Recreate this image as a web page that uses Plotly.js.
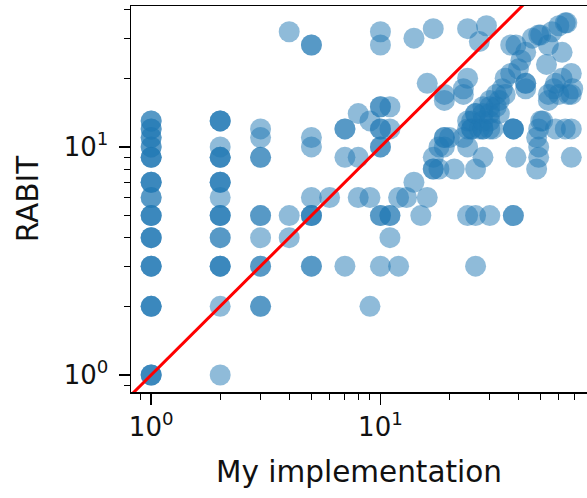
<!DOCTYPE html>
<html>
<head>
<meta charset="utf-8">
<script src="https://cdn.plot.ly/plotly-3.0.1.min.js"></script>
<style>html,body{margin:0;padding:0;background:#fff;}#chart{width:587px;height:498px;}</style>
</head>
<body>
<div id="chart"></div>
<script>
// Scatter data: "My implementation" (x) vs "RABIT" (y)
const myImpl = [
  1,1,1, 1,1,1, 1,1,1, 1,1,1, 1,1,1, 1,1, 1,1,1, 1,1,1, 1,1, 1,1, 1,1, 1,1,
  2, 2, 2,2,2, 2,2, 2,2,2, 2, 2,2,2, 2,2,2, 2, 2,2,2,
  3,3, 3,3, 3, 3,3, 3,3, 3, 3,
  4, 4, 4,
  5,5, 5,5,5, 5, 5, 5, 5,5,
  6,
  7, 7, 7,7,
  8, 8, 8,
  9, 9, 9,
  10, 10,10, 10,10, 10,10, 10,10, 10, 10,
  11, 11,11, 11, 11,
  12, 12,
  13,
  14, 14,
  15,
  16, 16,
  17,17, 17, 17,
  18, 18,
  19, 19, 19, 19, 19,
  20,
  21,
  23, 23, 23,
  24, 24, 24, 24, 24, 24,
  25, 25, 25,
  26, 26, 26, 26, 26,
  27, 27,
  28, 28, 28, 28, 28, 28,
  29,
  30, 30, 30, 30, 30, 30, 31,
  32, 32, 33, 33,
  34,
  35, 35,
  37, 37,
  38,38, 38,38,38,
  39, 39,
  40, 41,
  43, 43, 43, 43,
  46,
  48, 49, 49, 48, 49, 50, 51, 49,
  50,
  53, 54, 54, 54,
  56, 57,
  58, 58,
  60, 60,
  62, 62,
  64, 64,
  65, 66,
  68, 68, 68, 68, 69
];
const rabit = [
  1,1,1, 2,2,2, 3,3,3, 4,4,4, 5,5,5, 6,6, 7,7,7, 9,9,9, 10,10, 11,11, 12,12, 13,13,
  1, 2, 3,3,3, 4,4, 5,5,5, 6, 7,7,7, 9,9,9, 10, 13,13,13,
  2,2, 3,3, 4, 5,5, 9,9, 11, 12,
  4, 5, 32,
  3,3, 5,5,5, 6, 10, 11, 28,28,
  6,
  3, 9, 12,12,
  6, 9, 14,
  2, 6, 13,
  3, 5,5, 10,10, 12,12, 15,15, 28, 32,
  4, 5,5, 12, 15,
  3, 6,
  6,
  7, 30,
  5,
  6, 19,
  8,8, 9, 33,
  8, 10,
  10, 11, 11, 16, 17,
  11,
  8,
  11, 17, 18,
  5, 10, 12, 13, 20, 33,
  12, 13, 12,
  3, 5, 8, 14, 14,
  29, 12,
  9, 12, 12, 14, 15, 13,
  34,
  5, 12, 13, 15, 16, 14,
  12,
  17, 15, 14, 16,
  18,
  17, 20,
  21, 28,
  5,5, 12,12,12,
  9, 28,
  22, 24,
  18, 19, 26, 19,
  30,
  8, 9, 10, 11, 12, 13, 13, 31,
  31,
  23, 16, 17, 28,
  32, 18,
  12, 19,
  17, 34,
  20, 26,
  12, 35,
  35, 17,
  9, 12, 17, 21, 18
];
// Reference line y = x
const diagX = [0.5, 100];
const diagY = [0.5, 100];

const xMajorVals = [1, 10];
const xMajorText = ['10<sup>0</sup>', '10<sup>1</sup>'];
const yMajorVals = [1, 10];
const yMajorText = ['10<sup>0</sup>', '10<sup>1</sup>'];
const minorVals = [0.8, 0.9];
[1, 10].forEach(d => { for (let k = 2; k <= 9; k++) minorVals.push(k * d); });

const traces = [
  {
    x: myImpl, y: rabit, type: 'scatter', mode: 'markers',
    marker: {color: '#1f77b4', opacity: 0.5, size: 21, line: {width: 0}},
    hoverinfo: 'skip', showlegend: false
  },
  {
    x: diagX, y: diagY, type: 'scatter', mode: 'lines',
    line: {color: '#ff0000', width: 3}, hoverinfo: 'skip', showlegend: false
  }
];

const tickFont = {family: 'DejaVu Sans, sans-serif', size: 26, color: '#111'};
const titleFont = {family: 'DejaVu Sans, sans-serif', size: 29.5, color: '#111'};
const layout = {
  width: 587, height: 498,
  margin: {l: 131, r: 0, t: 6, b: 106},
  paper_bgcolor: '#fff', plot_bgcolor: '#fff',
  font: tickFont,
  showlegend: false,
  xaxis: {
    type: 'log', range: [-0.088, 1.901],
    showgrid: false, zeroline: false,
    showline: true, linecolor: '#000', linewidth: 1.5, mirror: true,
    ticks: 'outside', ticklen: 11, tickwidth: 1.5, tickcolor: '#000',
    tickmode: 'array', tickvals: xMajorVals, ticktext: xMajorText,
    tickfont: tickFont,
    minor: {tickmode: 'array', tickvals: minorVals, ticks: 'outside', ticklen: 6, tickwidth: 1, tickcolor: '#000', showgrid: false},
    title: {text: 'My implementation', font: titleFont, standoff: 20},
    automargin: false
  },
  yaxis: {
    type: 'log', range: [-0.0746, 1.618],
    showgrid: false, zeroline: false,
    showline: true, linecolor: '#000', linewidth: 1.5,
    ticks: 'outside', ticklen: 11, tickwidth: 1.5, tickcolor: '#000',
    tickmode: 'array', tickvals: yMajorVals, ticktext: yMajorText,
    tickfont: tickFont, ticklabelstandoff: 5,
    minor: {tickmode: 'array', tickvals: minorVals, ticks: 'outside', ticklen: 6, tickwidth: 1, tickcolor: '#000', showgrid: false},
    title: {text: 'RABIT', font: titleFont, standoff: 16},
    automargin: false
  }
};

Plotly.newPlot('chart', traces, layout, {staticPlot: true, displayModeBar: false});
</script>
</body>
</html>
